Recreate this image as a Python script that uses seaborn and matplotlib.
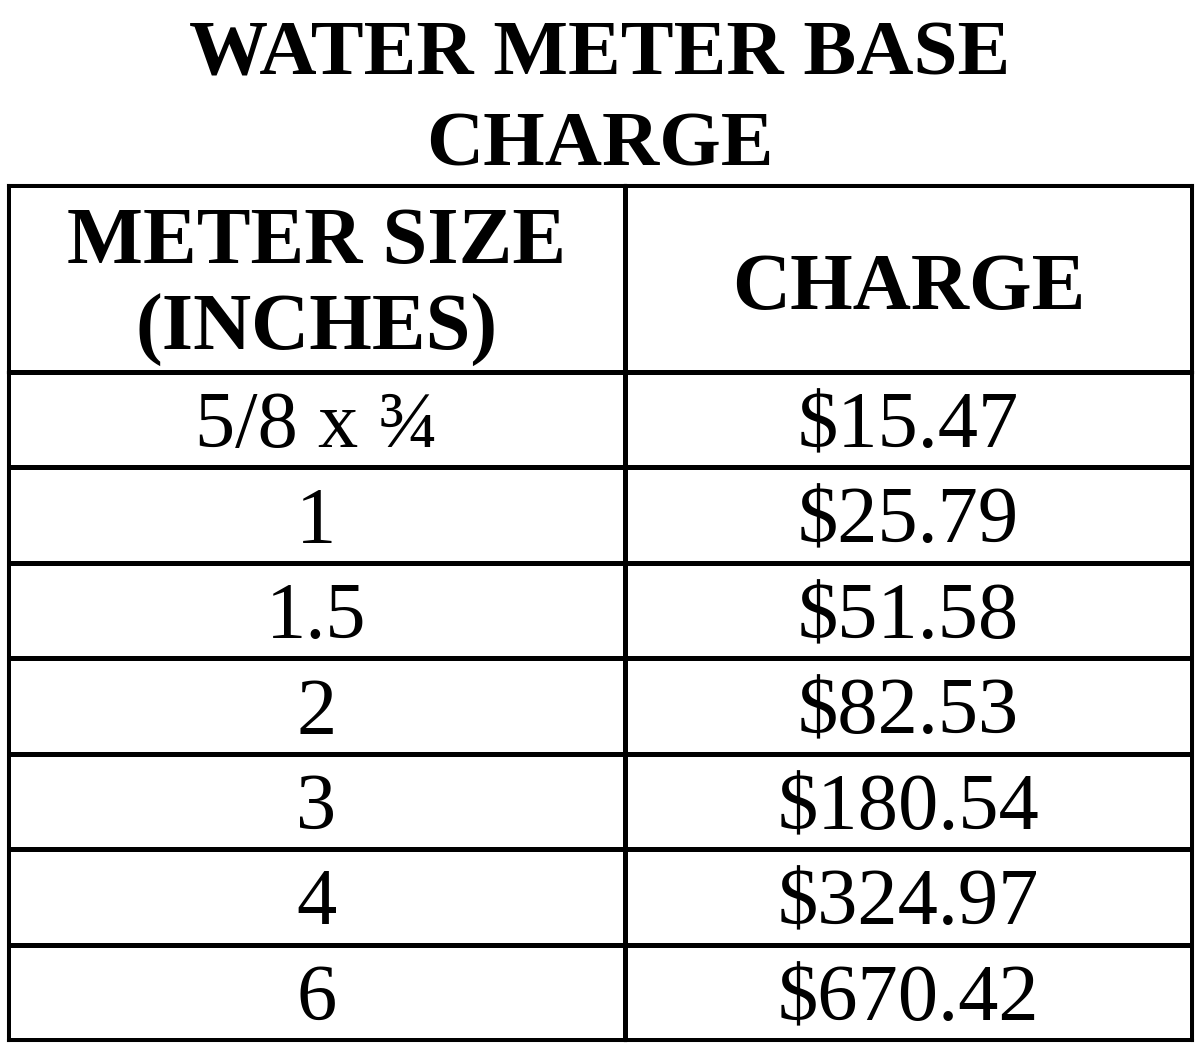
import numpy as np
import pandas as pd
import seaborn as sns
import matplotlib.pyplot as plt
from matplotlib.colors import ListedColormap

sns.set_theme(style="white")
plt.rcParams['font.family'] = ['Liberation Serif', 'DejaVu Serif']

title_lines = ["WATER METER BASE", "CHARGE"]
headers = ["METER SIZE\n(INCHES)", "CHARGE"]
meter_sizes = ["5/8 x ¾", "1", "1.5", "2", "3", "4", "6"]
charges = [15.47, 25.79, 51.58, 82.53, 180.54, 324.97, 670.42]

W, H = 1200, 1054
fig = plt.figure(figsize=(W / 100, H / 100), dpi=100)

def frac_axes(x0, y0, x1, y1):
    return fig.add_axes([x0 / W, 1 - y1 / H, (x1 - x0) / W, (y1 - y0) / H])

def shift_texts(ax, dy):
    for t in ax.texts:
        x, y = t.get_position()
        t.set_position((x, y + dy))

white = ListedColormap(["white"])
lw = 2.2

col_edges = [(8, 625), (625, 1192)]
body_labels = [list(meter_sizes), [f"${c:.2f}" for c in charges]]

axes = []
for j, (x0, x1) in enumerate(col_edges):
    # header cell
    ax_h = frac_axes(x0, 185, x1, 372)
    sns.heatmap(np.zeros((1, 1)), ax=ax_h, cmap=white, cbar=False,
                annot=np.array([[headers[j]]]), fmt="", linewidths=lw, linecolor="black",
                xticklabels=False, yticklabels=False,
                annot_kws=dict(fontsize=58, fontweight="bold", color="black", linespacing=1.25))
    shift_texts(ax_h, 0.045 if j == 0 else 0.06)
    # body cells
    df = pd.DataFrame({headers[j]: np.zeros(len(meter_sizes))}, index=meter_sizes)
    ax_b = frac_axes(x0, 372, x1, 1040)
    sns.heatmap(df, ax=ax_b, cmap=white, cbar=False,
                annot=np.array(body_labels[j]).reshape(-1, 1), fmt="",
                linewidths=lw, linecolor="black",
                xticklabels=False, yticklabels=False,
                annot_kws=dict(fontsize=58, color="black"))
    shift_texts(ax_b, 0.085)
    ax_b.set_xlabel("")
    ax_b.set_ylabel("")
    axes += [ax_h, ax_b]

for ax in axes:
    for s in ax.spines.values():
        s.set_visible(True)
        s.set_linewidth(lw)
        s.set_color("black")

fig.text(0.5, 1 - 75 / H, title_lines[0], ha="center", va="baseline",
         fontsize=57, fontweight="bold", color="black")
fig.text(0.5, 1 - 166 / H, title_lines[1], ha="center", va="baseline",
         fontsize=57, fontweight="bold", color="black")

fig.savefig("out.png", dpi=100, facecolor="white")
